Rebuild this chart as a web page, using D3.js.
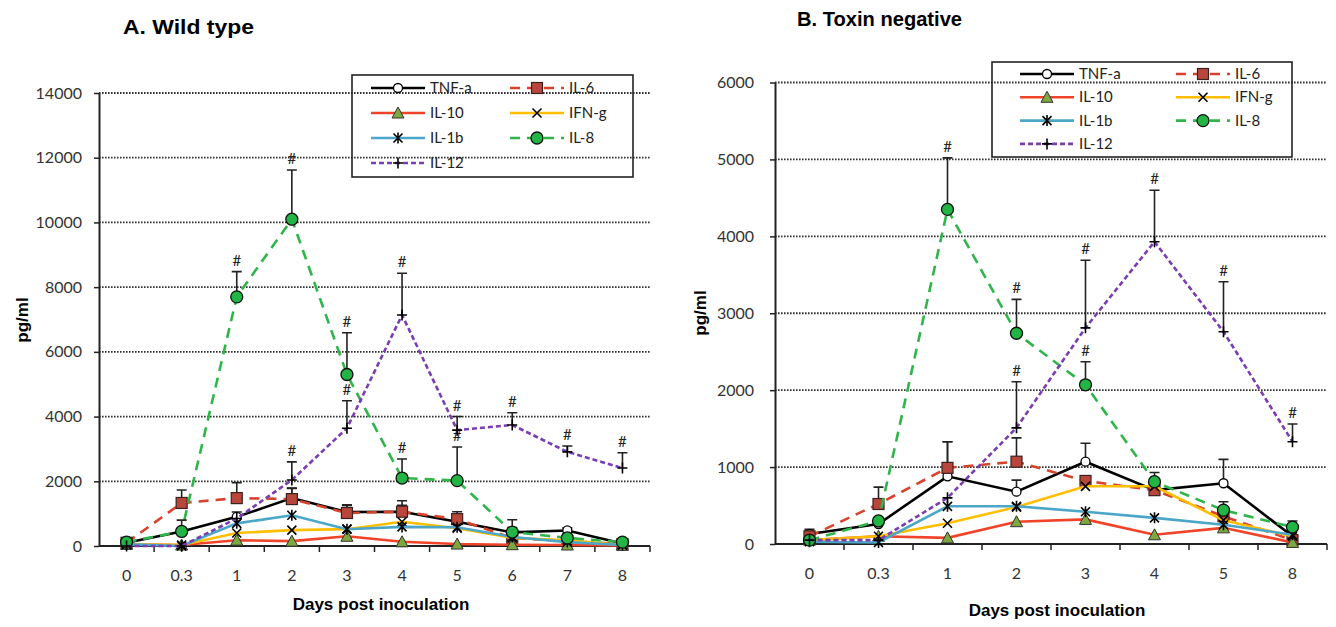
<!DOCTYPE html>
<html>
<head>
<meta charset="utf-8">
<script src="https://cdn.jsdelivr.net/npm/d3@7"></script>
<style>
body { margin: 0; background: #fff; }
</style>
</head>
<body>
<svg id="chart" width="1336" height="627"></svg>
<script>
// 细胞因子名称（两个面板共用）
var seriesNames = ["TNF-a", "IL-6", "IL-10", "IFN-g", "IL-1b", "IL-8", "IL-12"];

// A. Wild type
var daysA = ["0", "0.3", "1", "2", "3", "4", "5", "6", "7", "8"];
var wtTNF  = [100, 450, 900, 1480, 1050, 1060, 750, 420, 480, 80];
var wtIL6  = [100, 1330, 1480, 1450, 1020, 1060, 830, 250, 150, 60];
var wtIL10 = [50, 30, 180, 150, 300, 130, 60, 40, 30, 20];
var wtIFN  = [50, 30, 400, 490, 520, 750, 550, 250, 180, 30];
var wtIL1b = [50, 0, 700, 950, 520, 590, 580, 280, 120, 30];
var wtIL8  = [120, 450, 7700, 10100, 5300, 2100, 2020, 430, 250, 120];
var wtIL12 = [0, 0, 850, 2040, 3640, 7140, 3580, 3740, 2910, 2410];
// upper error (SD)
var wtTNFerr  = [null, null, 150, 300, 200, 200, 100, 150, 80, null];
var wtIL6err  = [100, 400, 480, 340, 250, 340, 230, 100, null, null];
var wtIL8err  = [null, 350, 780, 1520, 1290, 590, 1040, 380, 120, null];
var wtIL12err = [null, null, null, 560, 850, 1290, 420, 380, 180, 470];
// significance marks (#)
var wtIL8sig  = [0, 0, 1, 1, 1, 1, 1, 0, 0, 0];
var wtIL12sig = [0, 0, 0, 1, 1, 1, 1, 1, 1, 1];

// B. Toxin negative
var daysB = ["0", "0.3", "1", "2", "3", "4", "5", "8"];
var tnTNF  = [130, 260, 880, 680, 1070, 700, 790, 100];
var tnIL6  = [100, 520, 990, 1070, 820, 700, 360, 50];
var tnIL10 = [50, 100, 80, 290, 320, 120, 210, 20];
var tnIFN  = [50, 100, 270, 480, 750, 750, 310, 100];
var tnIL1b = [30, 20, 490, 490, 420, 340, 250, 120];
var tnIL8  = [50, 300, 4350, 2740, 2070, 810, 440, 220];
var tnIL12 = [50, 50, 600, 1510, 2810, 3930, 2760, 1330];
var tnTNFerr  = [60, null, 450, 150, 240, null, 310, null];
var tnIL6err  = [50, 220, 340, 310, null, 100, null, null];
var tnIL8err  = [null, null, 670, 440, 300, 120, 110, 80];
var tnIL12err = [null, null, null, 600, 880, 670, 650, 230];
var tnIL8sig  = [0, 0, 1, 1, 1, 0, 0, 0];
var tnIL12sig = [0, 0, 0, 1, 1, 1, 1, 1];

// 线条样式
var styles = {
  "TNF-a": {color: "#000000", dash: null, marker: "open"},
  "IL-6":  {color: "#d8432e", dash: "10,7", marker: "square"},
  "IL-10": {color: "#f0442a", dash: null, marker: "triangle"},
  "IFN-g": {color: "#ffbf00", dash: null, marker: "x"},
  "IL-1b": {color: "#4ba6c8", dash: null, marker: "asterisk"},
  "IL-8":  {color: "#2fb54a", dash: "10,7", marker: "circle"},
  "IL-12": {color: "#7a3db3", dash: "5,3", marker: "plus"}
};

var svg = d3.select("#chart");
var tickFont = "Lato, 'Liberation Sans', sans-serif";
var boldFont = "'Liberation Sans', Arial, sans-serif";

function drawShape(s, type) {
  if (type == "open") {
    s.append("circle").attr("r", 4.5).attr("fill", "#fff").attr("stroke", "#000").attr("stroke-width", 1.3);
  } else if (type == "square") {
    s.append("rect").attr("x", -5.5).attr("y", -5.5).attr("width", 11).attr("height", 11)
      .attr("fill", "#b9463a").attr("stroke", "#3b2220").attr("stroke-width", 1.2);
  } else if (type == "triangle") {
    s.append("path").attr("d", "M0,-6L6,5L-6,5Z").attr("fill", "#7da83f").attr("stroke", "#333").attr("stroke-width", 1);
  } else if (type == "x") {
    s.append("path").attr("d", "M-4.5,-4.5L4.5,4.5M-4.5,4.5L4.5,-4.5").attr("stroke", "#000").attr("stroke-width", 1.6);
  } else if (type == "asterisk") {
    s.append("path").attr("d", "M-4.5,-4.5L4.5,4.5M-4.5,4.5L4.5,-4.5M0,-5.5L0,5.5").attr("stroke", "#000").attr("stroke-width", 1.6);
  } else if (type == "circle") {
    s.append("circle").attr("r", 6).attr("fill", "#22b445").attr("stroke", "#111").attr("stroke-width", 1.3);
  } else if (type == "plus") {
    s.append("path").attr("d", "M-5,0L5,0M0,-5.5L0,5.5").attr("stroke", "#000").attr("stroke-width", 1.6);
  }
}

function drawPanel(o) {
  var g = svg.append("g");
  var x = d3.scaleBand().domain(o.days).range([o.left, o.right]);
  var y = d3.scaleLinear().domain([0, o.ymax]).range([o.bottom, o.top]);
  var bw = x.bandwidth();
  var cx = function (i) { return x(o.days[i]) + bw / 2; };

  // 网格线
  g.selectAll(".grid").data(d3.range(o.step, o.ymax + 1, o.step)).enter().append("line")
    .attr("x1", o.left).attr("x2", o.right)
    .attr("y1", function (d) { return y(d); }).attr("y2", function (d) { return y(d); })
    .attr("stroke", "#333").attr("stroke-width", 1.8).attr("stroke-dasharray", "1.6,1.4");

  // y axis
  var ya = g.append("g").attr("transform", "translate(" + o.left + ",0)")
    .call(d3.axisLeft(y).tickValues(d3.range(0, o.ymax + 1, o.step)).tickSize(5).tickSizeOuter(0).tickPadding(o.pad).tickFormat(d3.format("d")));
  ya.select(".domain").attr("stroke", "#222").attr("stroke-width", 2);
  ya.selectAll("line").attr("stroke", "#222").attr("stroke-width", 1.5);
  ya.selectAll("text").style("font-family", tickFont).style("font-size", "16px").attr("fill", "#333");

  // x axis
  var xa = g.append("g").attr("transform", "translate(0," + o.bottom + ")")
    .call(d3.axisBottom(x).tickSize(0).tickPadding(24));
  xa.select(".domain").remove();
  xa.selectAll("text").style("font-family", tickFont).style("font-size", "16px").attr("fill", "#333");
  g.append("line").attr("x1", o.left).attr("x2", o.right).attr("y1", o.bottom).attr("y2", o.bottom)
    .attr("stroke", "#222").attr("stroke-width", 2);
  g.selectAll(".xt").data(o.days.slice(1).concat(["end"])).enter().append("line")
    .attr("x1", function (d) { return d == "end" ? o.right : x(d); })
    .attr("x2", function (d) { return d == "end" ? o.right : x(d); })
    .attr("y1", o.bottom).attr("y2", o.bottom + 6)
    .attr("stroke", "#222").attr("stroke-width", 1.5);

  // 系列
  seriesNames.forEach(function (name) {
    var st = styles[name];
    var vals = o.values[name];
    var err = o.errors[name];
    var pts = vals.map(function (v, i) { return {v: v, i: i, e: err ? err[i] : null}; });

    var line = d3.line().x(function (d) { return cx(d.i); }).y(function (d) { return y(d.v); });
    g.append("path").datum(pts).attr("d", line).attr("fill", "none")
      .attr("stroke", st.color).attr("stroke-width", 2.6)
      .attr("stroke-dasharray", st.dash);

    var eb = pts.filter(function (d) { return d.e != null; });
    g.selectAll(null).data(eb).enter().append("path")
      .attr("d", function (d) {
        var x0 = cx(d.i), y0 = y(d.v), y1 = y(d.v + d.e);
        return "M" + x0 + "," + y0 + "L" + x0 + "," + y1 + "M" + (x0 - 5) + "," + y1 + "L" + (x0 + 5) + "," + y1;
      })
      .attr("stroke", "#222").attr("stroke-width", 1.6).attr("fill", "none");

    g.selectAll(null).data(pts).enter().append("g")
      .attr("transform", function (d) { return "translate(" + cx(d.i) + "," + y(d.v) + ")"; })
      .each(function () { drawShape(d3.select(this), st.marker); });

    var sig = o.sig[name];
    if (sig) {
      g.selectAll(null).data(pts.filter(function (d) { return sig[d.i]; })).enter().append("text")
        .attr("x", function (d) { return cx(d.i); })
        .attr("y", function (d) { return y(d.v + (d.e || 0)) - 6; })
        .attr("text-anchor", "middle")
        .style("font-family", tickFont).style("font-size", "15px").attr("fill", "#222")
        .text("#");
    }
  });

  // 标题
  g.append("text").attr("x", o.titleX).attr("y", o.titleY)
    .attr("textLength", o.titleW).attr("lengthAdjust", "spacingAndGlyphs")
    .style("font-family", boldFont).style("font-weight", "bold").style("font-size", "21px")
    .text(o.title);
  g.append("text").attr("transform", "translate(" + o.yLabelX + "," + o.yLabelY + ") rotate(-90)")
    .attr("text-anchor", "middle")
    .style("font-family", boldFont).style("font-weight", "bold").style("font-size", "17px")
    .text("pg/ml");
  g.append("text").attr("x", o.xLabelX).attr("y", o.xLabelY)
    .attr("text-anchor", "middle")
    .style("font-family", boldFont).style("font-weight", "bold").style("font-size", "17px")
    .text("Days post inoculation");

  // legend
  var L = o.legend;
  g.append("rect").attr("x", L.x).attr("y", L.y).attr("width", L.w).attr("height", L.h)
    .attr("fill", "none").attr("stroke", "#222").attr("stroke-width", 1.6);
  seriesNames.forEach(function (name, k) {
    var st = styles[name];
    var col = k % 2, row = Math.floor(k / 2);
    var lx = L.cols[col], ly = L.y + L.row0 + row * L.rowH;
    g.append("line").attr("x1", lx).attr("x2", lx + 54).attr("y1", ly).attr("y2", ly)
      .attr("stroke", st.color).attr("stroke-width", 2.6).attr("stroke-dasharray", st.dash);
    drawShape(g.append("g").attr("transform", "translate(" + (lx + 27) + "," + ly + ")"), st.marker);
    g.append("text").attr("x", lx + 59).attr("y", ly + 5)
      .style("font-family", tickFont).style("font-size", "15px").attr("fill", "#222")
      .text(name);
  });
}

drawPanel({
  days: daysA, left: 99, right: 650, top: 93, bottom: 546, ymax: 14000, step: 2000, pad: 12,
  values: {"TNF-a": wtTNF, "IL-6": wtIL6, "IL-10": wtIL10, "IFN-g": wtIFN, "IL-1b": wtIL1b, "IL-8": wtIL8, "IL-12": wtIL12},
  errors: {"TNF-a": wtTNFerr, "IL-6": wtIL6err, "IL-8": wtIL8err, "IL-12": wtIL12err},
  sig: {"IL-8": wtIL8sig, "IL-12": wtIL12sig},
  title: "A. Wild type", titleX: 123, titleY: 34, titleW: 131,
  yLabelX: 28, yLabelY: 320, xLabelX: 381, xLabelY: 610,
  legend: {x: 352, y: 75, w: 281, h: 102, row0: 13, rowH: 25, cols: [371, 510]}
});

drawPanel({
  days: daysB, left: 775, right: 1327, top: 82.5, bottom: 544, ymax: 6000, step: 1000, pad: 16,
  values: {"TNF-a": tnTNF, "IL-6": tnIL6, "IL-10": tnIL10, "IFN-g": tnIFN, "IL-1b": tnIL1b, "IL-8": tnIL8, "IL-12": tnIL12},
  errors: {"TNF-a": tnTNFerr, "IL-6": tnIL6err, "IL-8": tnIL8err, "IL-12": tnIL12err},
  sig: {"IL-8": tnIL8sig, "IL-12": tnIL12sig},
  title: "B. Toxin negative", titleX: 797, titleY: 26, titleW: 165,
  yLabelX: 706, yLabelY: 313, xLabelX: 1057, xLabelY: 616,
  legend: {x: 992, y: 62, w: 300, h: 95, row0: 12, rowH: 23.3, cols: [1020, 1176]}
});
</script>
</body>
</html>
